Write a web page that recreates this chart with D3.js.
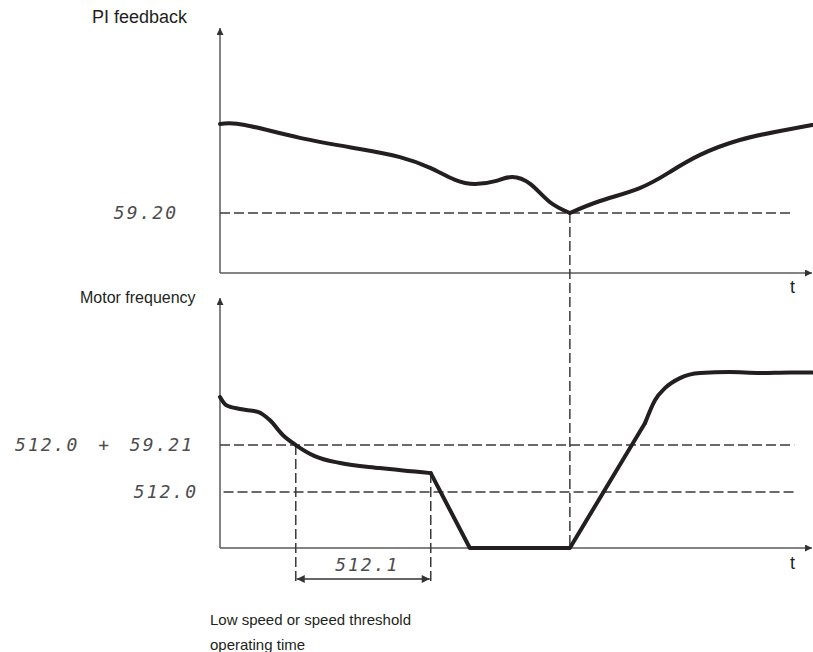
<!DOCTYPE html>
<html>
<head>
<meta charset="utf-8">
<script src="https://cdn.jsdelivr.net/npm/d3@7"></script>
<style>
  html, body { margin: 0; padding: 0; background: #fff; }
  svg { display: block; }
  .title { font-family: "Liberation Sans", Arial, sans-serif; font-size: 16px; fill: #231f20; }
  .seg { font-family: "DejaVu Sans Mono", monospace; font-style: italic; font-size: 18px; fill: #4d4d4d; letter-spacing: 2px; word-spacing: 6px; }
</style>
</head>
<body>
<svg id="chart" width="813" height="652"></svg>
<script>
// Time axis runs 0..100 across both panels; values are in percent of each panel's height.

// PI feedback signal (top panel)
const feedbackT = [0, 4.2, 13.5, 23.6, 30.4, 35.5, 39.7, 43.1, 46.5, 49.3, 52.4, 55.7, 59.1, 64.2, 70.9, 76.0, 81.1, 87.8, 94.6, 100];
const feedbackV = [62.1, 61.7, 56.3, 51.7, 48.3, 43.8, 38.8, 37.1, 38.3, 40.0, 37.1, 29.6, 25.0, 30.0, 35.4, 42.1, 49.2, 55.4, 59.2, 61.7];

// Motor frequency (bottom panel): smooth decay, linear stop, ramp, smooth settle
const decelT = [0, 1.0, 3.4, 6.4, 8.4, 10.6, 12.8, 16.0, 20.3, 27.0, 35.6];
const decelV = [62.9, 59.6, 57.9, 56.7, 53.3, 47.1, 42.9, 38.3, 35.4, 33.3, 31.2];
const stopT = [35.6, 42.2, 59.1, 71.8];
const stopV = [31.2, 0, 0, 52.1];
const settleT = [71.8, 73.5, 75.2, 77.7, 81.1, 86.1, 91.2, 96.3, 100];
const settleV = [52.1, 61.7, 66.7, 70.8, 72.9, 73.3, 72.9, 73.1, 73.1];

// Threshold levels and their parameter labels
const feedbackAlarm = 25.0;
const feedbackAlarmLabel = "59.20";
const upperThreshold = 42.9;
const upperThresholdLabel = "512.0 + 59.21";
const lowerThreshold = 23.3;
const lowerThresholdLabel = "512.0";
const timeLabel = "512.1";

// Key instants
const wakeT = 59.1;          // feedback reaches the alarm level
const crossT = 12.8;         // frequency crosses upper threshold
const cornerT = 35.6;        // operating time elapsed

const svg = d3.select("#chart");
const ink = "#231f20";
const axisCol = "#5a5a5a";

const x = d3.scaleLinear().domain([0, 100]).range([220, 812]);
const yTop = d3.scaleLinear().domain([0, 100]).range([273, 33]);
const yBot = d3.scaleLinear().domain([0, 100]).range([548, 308]);

// arrowhead markers
const defs = svg.append("defs");
defs.append("marker").attr("id", "ah").attr("viewBox", "0 0 10 10")
  .attr("refX", 10).attr("refY", 5).attr("markerWidth", 14).attr("markerHeight", 7)
  .attr("markerUnits", "userSpaceOnUse").attr("orient", "auto")
  .append("path").attr("d", "M0,0 L10,5 L0,10 Z").attr("fill", "#333");
defs.append("marker").attr("id", "dim").attr("viewBox", "0 0 10 10")
  .attr("refX", 10).attr("refY", 5).attr("markerWidth", 14).attr("markerHeight", 8)
  .attr("markerUnits", "userSpaceOnUse").attr("orient", "auto-start-reverse")
  .append("path").attr("d", "M0,0 L10,5 L0,10 Z").attr("fill", "#333");

function axes(y, topPx) {
  svg.append("line").attr("x1", x(0)).attr("y1", y(0)).attr("x2", x(0)).attr("y2", topPx)
    .attr("stroke", axisCol).attr("stroke-width", 1.5).attr("marker-end", "url(#ah)");
  svg.append("line").attr("x1", x(0)).attr("y1", y(0)).attr("x2", x(100)).attr("y2", y(0))
    .attr("stroke", axisCol).attr("stroke-width", 1.5).attr("marker-end", "url(#ah)");
}
axes(yTop, 28);
axes(yBot, 298);

const dash = "10,4";
function hDash(y, v, t0, t1) {
  svg.append("line").attr("x1", x(t0)).attr("x2", x(t1)).attr("y1", y(v)).attr("y2", y(v))
    .attr("stroke", "#3a3a3a").attr("stroke-width", 1.5).attr("stroke-dasharray", dash);
}
hDash(yTop, feedbackAlarm, 0, 96.3);
hDash(yBot, upperThreshold, 0, 97.0);
hDash(yBot, lowerThreshold, 0.6, 97.5);

// vertical guides
svg.append("line").attr("x1", x(wakeT)).attr("x2", x(wakeT))
  .attr("y1", yTop(feedbackAlarm)).attr("y2", yBot(0))
  .attr("stroke", "#3a3a3a").attr("stroke-width", 1.5).attr("stroke-dasharray", dash);
const dimY = yBot(0) + 31;
[[crossT, upperThreshold], [cornerT, decelV[decelV.length - 1]]].forEach(([t, v]) => {
  svg.append("line").attr("x1", x(t)).attr("x2", x(t)).attr("y1", yBot(v)).attr("y2", dimY + 4)
    .attr("stroke", "#3a3a3a").attr("stroke-width", 1.5).attr("stroke-dasharray", dash);
});
svg.append("line").attr("x1", x(crossT) + 1).attr("x2", x(cornerT) - 1).attr("y1", dimY).attr("y2", dimY)
  .attr("stroke", "#333").attr("stroke-width", 1.5)
  .attr("marker-start", "url(#dim)").attr("marker-end", "url(#dim)");

// curves
const natural = y => d3.line().x(d => x(d[0])).y(d => y(d[1])).curve(d3.curveNatural);
const smooth = y => d3.line().x(d => x(d[0])).y(d => y(d[1])).curve(d3.curveMonotoneX);
const straight = y => d3.line().x(d => x(d[0])).y(d => y(d[1]));
function curve(gen, T, V) {
  svg.append("path").attr("d", gen(T.map((t, i) => [t, V[i]])))
    .attr("fill", "none").attr("stroke", ink).attr("stroke-width", 4)
    .attr("stroke-linejoin", "round").attr("stroke-linecap", "round");
}
// feedback has a cusp where it touches the alarm level: draw each side separately
const cusp = feedbackT.indexOf(wakeT);
curve(natural(yTop), feedbackT.slice(0, cusp + 1), feedbackV.slice(0, cusp + 1));
curve(natural(yTop), feedbackT.slice(cusp), feedbackV.slice(cusp));
curve(smooth(yBot), decelT, decelV);
curve(straight(yBot), stopT, stopV);
curve(smooth(yBot), settleT, settleV);

// texts
svg.append("text").attr("class", "title").attr("x", 187).attr("y", 23)
  .attr("text-anchor", "end").style("font-size", "18px").text("PI feedback");
svg.append("text").attr("class", "title").attr("x", 80).attr("y", 303).text("Motor frequency");
svg.append("text").attr("class", "title").attr("x", 790).attr("y", 293).style("font-size", "18px").text("t");
svg.append("text").attr("class", "title").attr("x", 790).attr("y", 569).style("font-size", "18px").text("t");
svg.append("text").attr("class", "title").attr("x", 210).attr("y", 625).style("font-size", "15px").text("Low speed or speed threshold");
svg.append("text").attr("class", "title").attr("x", 210).attr("y", 650).style("font-size", "15px").text("operating time");

function segLabel(txt, xr, y) {
  svg.append("text").attr("class", "seg").attr("x", xr).attr("y", y)
    .attr("text-anchor", "end").attr("dy", "0.35em").text(txt);
}
segLabel(feedbackAlarmLabel, 178, yTop(feedbackAlarm));
segLabel(upperThresholdLabel, 194, yBot(upperThreshold));
segLabel(lowerThresholdLabel, 198, yBot(lowerThreshold));
svg.append("text").attr("class", "seg").attr("x", (x(crossT) + x(cornerT)) / 2 + 4).attr("y", dimY - 14)
  .attr("text-anchor", "middle").attr("dy", "0.35em").text(timeLabel);
</script>
</body>
</html>
